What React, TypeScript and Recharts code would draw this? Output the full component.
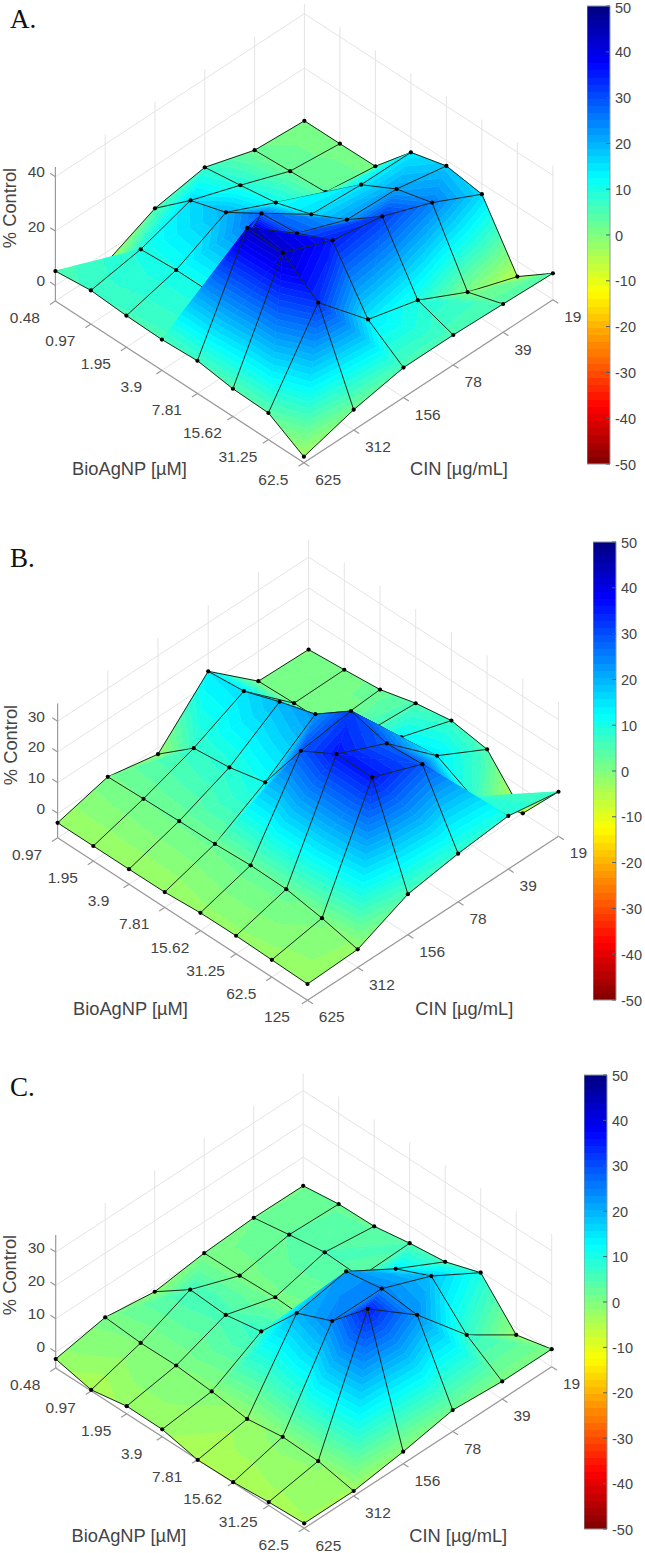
import React from 'react';
import { ScatterChart, Scatter, XAxis, YAxis, BarChart, Bar } from 'recharts';

// ---------- values ----------
const bioA = ['0.48', '0.97', '1.95', '3.9', '7.81', '15.62', '31.25', '62.5'];
const bioB = ['0.97', '1.95', '3.9', '7.81', '15.62', '31.25', '62.5', '125'];
const bioC = ['0.48', '0.97', '1.95', '3.9', '7.81', '15.62', '31.25', '62.5'];
const cin = ['625', '312', '156', '78', '39', '19'];
const zTicksA = [0, 20, 40];
const zTicksB = [0, 10, 20, 30];
const zTicksC = [0, 10, 20, 30];
const cbTicks = [-50, -40, -30, -20, -10, 0, 10, 20, 30, 40, 50];

// rows: CIN 625 -> 19, columns: BioAgNP low -> high
const surfaceA = [
  [5.3, 6.7, 5.9, 5.6, 6.3, 4.5, 4.1, -3.5],
  [-4, 9.8, 10.7, 10.7, 43.2, 42.5, 32.7, 1.8],
  [4.4, 15.8, 19.9, 28, 29.2, 35.1, 14.5, 5.3],
  [7.5, 9.4, 11.5, 15.7, 22.2, 31.9, 9.6, 5.3],
  [1.8, 2.6, 3.4, 14.6, 21.5, 25, 0.6, 4.7],
  [0.6, 0.7, 0.9, 14.5, 18, 16.1, -5.7, 4],
];
const surfaceB = [
  [-3.1, -3.1, -3.1, -3, -2.2, -2.1, -2.4, -2.7],
  [1.2, 1.6, 1.9, 2, 2.6, 2.4, 0.5, -2.1],
  [-2.1, 7.4, 8.7, 11.4, 29.2, 35.7, 35.7, 5.2],
  [14.2, 15.3, 19.4, 22.9, 31.5, 28.5, 29.3, 7.7],
  [0.3, 0.7, 0.8, 6.1, 12.3, 13.8, 7.9, 9.3],
  [-0.1, 0.9, 2, 5.1, 7, 5.2, -8.1, 6.5],
];
const surfaceC = [
  [-2.1, -4.5, -2.5, -2.6, -4.9, -4.7, -3.8, -3.3],
  [0.7, -0.1, 0, -0.9, -2.3, -0.8, -1.2, -3.3],
  [-1.3, 6.2, 5.5, 7.4, 19.8, 24.3, 34.8, -1.2],
  [0.6, 0.7, 1.1, 0.5, 22.6, 24.3, 23.3, 1.6],
  [1.5, 3.3, 4.9, 4.4, 13.7, 18.4, 7.6, 0.5],
  [1.4, 2.8, 3, 4.8, 6.1, 9.7, -2.1, 0.5],
];

// ---------- layout (projection of the 3-D box onto the page) ----------
const layoutA = { top: 0, bottom: 515, x0: 55.4, dxu: 35.5, dxv: 49.8, y0: 285.5, dyu: 23.1, dyv: -32.6, k: 2.72, zFloor: -5.7, zTop: 43.6, letter: 'A.', letterY: 28, bioTitle: [129.5, 468.3], cinTitle: [459, 468.3], zTitle: [9.5, 208], cb: { left: 587, top: 6, bottom: 464 } };
const layoutB = { top: 515, bottom: 1050, x0: 57.6, dxu: 35.7, dxv: 50.2, y0: 813.3, dyu: 23.2, dyv: -32.8, k: 3.07, zFloor: -8, zTop: 35.8, letter: 'B.', letterY: 567, bioTitle: [130.4, 1008.3], cinTitle: [464.3, 1008.3], zTitle: [10.5, 745], cb: { left: 593, top: 542, bottom: 1000 } };
const layoutC = { top: 1050, bottom: 1553, x0: 55.7, dxu: 35.5, dxv: 49.5, y0: 1352, dyu: 22.9, dyv: -32.3, k: 3.33, zFloor: -4.8, zTop: 35.1, letter: 'C.', letterY: 1096, bioTitle: [129, 1536], cinTitle: [458.2, 1536], zTitle: [9.5, 1275], cb: { left: 584, top: 1075, bottom: 1529 } };

const TEXT = '#444444';
const SANS = '"Liberation Sans", Arial, sans-serif';
const N_LEVELS = 64;

const clamp = (v: number) => Math.max(0, Math.min(1, v));
function jet(t: number) {
  const r = clamp(Math.min(4 * t - 1.5, -4 * t + 4.5));
  const g = clamp(Math.min(4 * t - 0.5, -4 * t + 3.5));
  const b = clamp(Math.min(4 * t + 0.5, -4 * t + 2.5));
  return `rgb(${Math.round(r * 255)},${Math.round(g * 255)},${Math.round(b * 255)})`;
}

type P3 = { x: number; y: number; z: number };
function clipZ(poly: P3[], level: number, keepAbove: boolean): P3[] {
  const out: P3[] = [];
  const inside = (p: P3) => (keepAbove ? p.z >= level : p.z <= level);
  for (let i = 0; i < poly.length; i++) {
    const a = poly[i];
    const b = poly[(i + 1) % poly.length];
    if (inside(a)) out.push(a);
    if (inside(a) !== inside(b)) {
      const t = (level - a.z) / (b.z - a.z);
      out.push({ x: a.x + t * (b.x - a.x), y: a.y + t * (b.y - a.y), z: level });
    }
  }
  return out;
}
function bands(tri: P3[]) {
  const res: { pts: string; fill: string }[] = [];
  const zs = tri.map((p) => p.z);
  const step = 100 / N_LEVELS;
  const hiIdx = Math.floor((50 - Math.max(...zs)) / step);
  const loIdx = Math.floor((50 - Math.min(...zs)) / step);
  for (let i = hiIdx; i <= loIdx; i++) {
    const hi = 50 - i * step;
    const lo = hi - step;
    const poly = clipZ(clipZ(tri, lo, true), hi, false);
    if (poly.length >= 3) res.push({ pts: poly.map((p) => p.x.toFixed(2) + ',' + p.y.toFixed(2)).join(' '), fill: jet((i + 0.5) / N_LEVELS) });
  }
  return res;
}

function makeProject(L: any) {
  return (u: number, v: number, z: number) => ({
    x: L.x0 + L.dxu * u + L.dxv * v,
    y: L.y0 + L.dyu * u + L.dyv * v - L.k * z,
    z,
  });
}

function buildSurface(zs: number[][], L: any) {
  const pr = makeProject(L);
  const rows = zs.length;
  const cols = zs[0].length;
  const tris: any[] = [];
  for (let v = 0; v < rows - 1; v++) {
    for (let u = 0; u < cols - 1; u++) {
      // each cell is split along its higher diagonal
      const mainHigher = zs[v][u] + zs[v + 1][u + 1] >= zs[v + 1][u] + zs[v][u + 1];
      const pair = mainHigher
        ? [[[u, v], [u + 1, v + 1], [u, v + 1]], [[u, v], [u + 1, v], [u + 1, v + 1]]]
        : [[[u, v + 1], [u, v], [u + 1, v]], [[u, v + 1], [u + 1, v], [u + 1, v + 1]]];
      pair.forEach((nodes) => {
        const key = nodes.reduce((s, n) => s + L.dyu * n[0] + L.dyv * n[1], 0);
        tris.push({ nodes, key });
      });
    }
  }
  tris.sort((a, b) => a.key - b.key);
  const has = (t: any, u: number, v: number) => t.nodes.some((n: number[]) => n[0] === u && n[1] === v);
  const last = (test: (t: any) => boolean) => {
    for (let i = tris.length - 1; i >= 0; i--) if (test(tris[i])) return tris[i];
    return tris[0];
  };
  tris.forEach((t) => { t.edges = []; t.dots = []; });
  const at = (u: number, v: number) => pr(u, v, zs[v][u]);
  for (let v = 0; v < rows; v++) {
    for (let u = 0; u < cols; u++) {
      last((t) => has(t, u, v)).dots.push(at(u, v));
      if (u < cols - 1) last((t) => has(t, u, v) && has(t, u + 1, v)).edges.push([at(u, v), at(u + 1, v)]);
      if (v < rows - 1) last((t) => has(t, u, v) && has(t, u, v + 1)).edges.push([at(u, v), at(u, v + 1)]);
    }
  }
  return tris.map((t) => {
    const pts = t.nodes.map((n: number[]) => at(n[0], n[1]));
    return {
      sx: pts[0].x,
      sy: pts[0].y,
      bands: bands(pts),
      edges: t.edges,
      dots: t.dots,
    };
  });
}

function buildFrame(L: any, zTicks: number[], nu: number, nv: number) {
  const pr = makeProject(L);
  const seg: any[] = [];
  const add = (a: any, b: any, kind: string) => seg.push({ sx: a.x, sy: a.y, ex: b.x, ey: b.y, kind });
  const GRID = 'grid';
  for (let u = 0; u < nu; u++) add(pr(u, 0, L.zFloor), pr(u, nv - 1, L.zFloor), GRID);
  for (let v = 0; v < nv; v++) add(pr(0, v, L.zFloor), pr(nu - 1, v, L.zFloor), GRID);
  for (let v = 1; v < nv; v++) add(pr(0, v, L.zFloor), pr(0, v, L.zTop), GRID);
  for (let u = 1; u < nu; u++) add(pr(u, nv - 1, L.zFloor), pr(u, nv - 1, L.zTop), GRID);
  zTicks.forEach((z) => {
    add(pr(0, 0, z), pr(0, nv - 1, z), GRID);
    add(pr(0, nv - 1, z), pr(nu - 1, nv - 1, z), GRID);
    add(pr(0, 0, z), pr(-0.15, 0, z), 'axis');
  });
  add(pr(0, 0, L.zFloor), pr(0, 0, L.zTop), 'axis');
  add(pr(0, 0, L.zFloor), pr(nu - 1, 0, L.zFloor), 'axis');
  add(pr(nu - 1, 0, L.zFloor), pr(nu - 1, nv - 1, L.zFloor), 'axis');
  for (let u = 0; u < nu; u++) add(pr(u, 0, L.zFloor), pr(u, -0.11, L.zFloor), 'axis');
  for (let v = 0; v < nv; v++) add(pr(nu - 1, v, L.zFloor), pr(nu - 1 + 0.15, v, L.zFloor), 'axis');
  return seg;
}

function buildLabels(L: any, bio: string[], zTicks: number[]) {
  const pr = makeProject(L);
  const out: any[] = [];
  bio.forEach((t, u) => {
    const p = pr(u, 0, L.zFloor);
    out.push({ sx: p.x - 30.5, sy: p.y + 16.5, text: t, anchor: 'middle', size: 15.5 });
  });
  cin.forEach((t, v) => {
    const p = pr(bio.length - 1, v, L.zFloor);
    out.push({ sx: p.x + 11.3, sy: p.y + 16.8, text: t, anchor: 'start', size: 15.5 });
  });
  zTicks.forEach((z) => {
    const p = pr(0, 0, z);
    out.push({ sx: 45, sy: p.y - 5, text: String(z), anchor: 'end', size: 15.5 });
  });
  out.push({ sx: L.bioTitle[0], sy: L.bioTitle[1], text: 'BioAgNP [µM]', anchor: 'middle', size: 18.3 });
  out.push({ sx: L.cinTitle[0], sy: L.cinTitle[1], text: 'CIN [µg/mL]', anchor: 'middle', size: 18.3 });
  out.push({ sx: L.zTitle[0], sy: L.zTitle[1], text: '% Control', anchor: 'middle', size: 18.3, rotate: true });
  out.push({ sx: 10, sy: L.letterY, text: L.letter, anchor: 'start', size: 27, serif: true });
  return out;
}

const FrameShape = (p: any) => {
  const d = p.payload;
  const dx = p.cx - d.sx;
  const dy = p.cy - d.sy;
  return (
    <line
      x1={p.cx}
      y1={p.cy}
      x2={d.ex + dx}
      y2={d.ey + dy}
      stroke={d.kind === 'axis' ? '#9a9a9a' : '#e4e4e4'}
      strokeWidth={d.kind === 'axis' ? 1.2 : 1}
    />
  );
};

const TriShape = (p: any) => {
  const d = p.payload;
  const dx = p.cx - d.sx;
  const dy = p.cy - d.sy;
  return (
    <g transform={`translate(${dx},${dy})`}>
      {d.bands.map((b: any, i: number) => (
        <polygon key={i} points={b.pts} fill={b.fill} stroke={b.fill} strokeWidth={0.6} />
      ))}
      {d.edges.map((e: any, i: number) => (
        <line key={i} x1={e[0].x} y1={e[0].y} x2={e[1].x} y2={e[1].y} stroke="#16281c" strokeWidth={1} />
      ))}
      {d.dots.map((n: any, i: number) => (
        <circle key={i} cx={n.x} cy={n.y} r={2.1} fill="#000" />
      ))}
    </g>
  );
};

const LabelShape = (p: any) => {
  const d = p.payload;
  return (
    <text
      x={p.cx}
      y={p.cy}
      dy={d.serif ? 0 : '0.35em'}
      textAnchor={d.anchor}
      fontSize={d.size}
      fontFamily={d.serif ? '"Liberation Serif", serif' : SANS}
      fill={d.serif ? '#111' : TEXT}
      transform={d.rotate ? `rotate(-90 ${p.cx} ${p.cy})` : undefined}
    >
      {d.text}
    </text>
  );
};

function ColorBar({ L, id }: { L: any; id: string }) {
  const barW = 23;
  const axisW = 40;
  const pad = 10;
  const h = L.cb.bottom - L.cb.top;
  const data = [{ name: 'scale', range: [-50, 50] }];
  const stops: React.ReactNode[] = [];
  for (let i = 0; i < N_LEVELS; i++) {
    const c = jet((i + 0.5) / N_LEVELS);
    stops.push(<stop key={i + 'a'} offset={i / N_LEVELS} stopColor={c} />);
    stops.push(<stop key={i + 'b'} offset={(i + 1) / N_LEVELS} stopColor={c} />);
  }
  return (
    <div style={{ position: 'absolute', left: L.cb.left, top: L.cb.top - pad }}>
      <BarChart width={barW + axisW} height={h + pad * 2} data={data} margin={{ top: pad, right: 0, bottom: pad, left: 0 }} barCategoryGap={0}>
        <defs>
          <linearGradient id={id} x1="0" y1="0" x2="0" y2="1">{stops}</linearGradient>
        </defs>
        <XAxis dataKey="name" hide />
        <YAxis
          orientation="right"
          type="number"
          domain={[-50, 50]}
          ticks={cbTicks}
          interval={0}
          width={axisW}
          axisLine={false}
          tickLine={false}
          tickSize={0}
          tickMargin={0}
          tick={(t: any) => (
            <g>
              <line x1={t.x - 4} x2={t.x} y1={t.y} y2={t.y} stroke="#44607a" strokeWidth={1} />
              <text x={t.x + 5} y={t.y + (L.cb.top < 10 && t.payload.value === 50 ? 2.4 : 0.5)} dy="0.35em" textAnchor="start" fontSize={14.5} fontFamily={SANS} fill={TEXT}>
                {t.payload.value}
              </text>
            </g>
          )}
        />
        <Bar dataKey="range" fill={`url(#${id})`} stroke="#8a9a9a" strokeWidth={1} isAnimationActive={false} />
      </BarChart>
    </div>
  );
}

function Panel({ L, zs, bio, zTicks, id }: any) {
  const frame = buildFrame(L, zTicks, bio.length, cin.length);
  const tris = buildSurface(zs, L);
  const labels = buildLabels(L, bio, zTicks);
  return (
    <>
      <div style={{ position: 'absolute', left: 0, top: L.top }}>
        <ScatterChart width={645} height={L.bottom - L.top} margin={{ top: 0, right: 0, bottom: 0, left: 0 }}>
          <XAxis type="number" dataKey="sx" domain={[0, 645]} allowDataOverflow hide />
          <YAxis type="number" dataKey="sy" domain={[L.top, L.bottom]} reversed allowDataOverflow hide />
          <Scatter data={frame} shape={FrameShape} isAnimationActive={false} />
          <Scatter data={tris} shape={TriShape} isAnimationActive={false} />
          <Scatter data={labels} shape={LabelShape} isAnimationActive={false} />
        </ScatterChart>
      </div>
      <ColorBar L={L} id={id} />
    </>
  );
}

export default function App() {
  return (
    <div style={{ position: 'absolute', left: 0, top: 0, width: 645, height: 1553, background: '#fff', overflow: 'hidden' }}>
      <Panel L={layoutA} zs={surfaceA} bio={bioA} zTicks={zTicksA} id="cbA" />
      <Panel L={layoutB} zs={surfaceB} bio={bioB} zTicks={zTicksB} id="cbB" />
      <Panel L={layoutC} zs={surfaceC} bio={bioC} zTicks={zTicksC} id="cbC" />
    </div>
  );
}
